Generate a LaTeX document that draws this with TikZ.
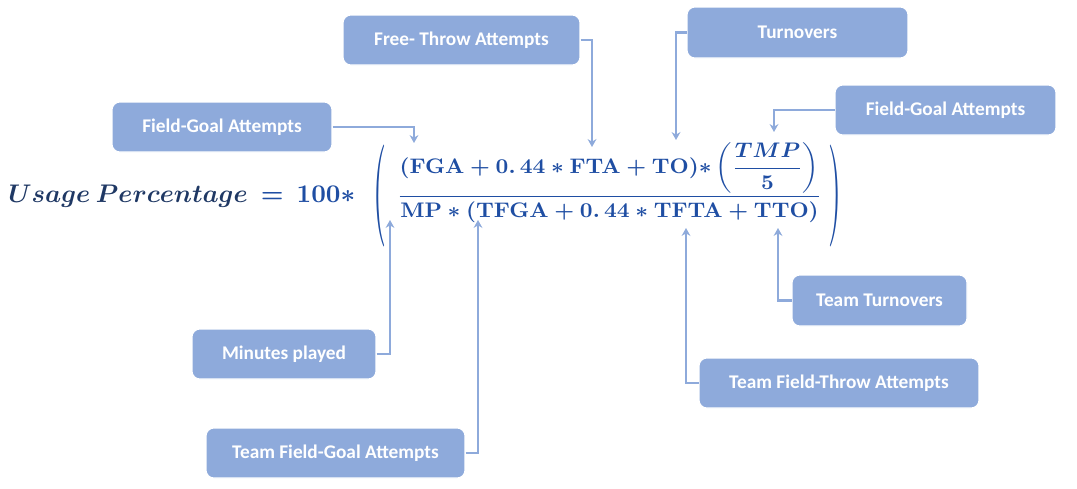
\documentclass[tikz,border=0pt]{standalone}
\usepackage{amsmath}
\usepackage[no-math]{fontspec}
\setmainfont{Carlito}
\usetikzlibrary{arrows.meta}
\definecolor{boxblue}{HTML}{8EAADB}
\definecolor{navy}{HTML}{1F3864}
\definecolor{eqblue}{HTML}{1F4EA3}
\tikzset{
  lbl/.style={fill=boxblue, draw=white, line width=0.6pt, rounded corners=4.5pt, text=white,
    font=\fontsize{11}{13}\selectfont\bfseries, inner sep=0pt, anchor=center},
  conn/.style={draw=boxblue, line width=1.6pt, -{Stealth[length=4.5pt,width=5pt]}},
  eq/.style={inner sep=0pt, text=eqblue}
}
\begin{document}
\begin{tikzpicture}[x=0.02cm,y=-0.02cm]
\useasboundingbox (0,0) rectangle (1077,488);
% labels
\node[lbl, minimum width=4.74cm, minimum height=1.0cm] (fta) at (461.5,40) {Free- Throw Attempts};
\node[lbl, minimum width=4.42cm, minimum height=1.02cm] (to) at (797.5,32.5) {Turnovers};
\node[lbl, minimum width=4.42cm, minimum height=1.0cm] (fgaR) at (945.5,110) {Field-Goal Attempts};
\node[lbl, minimum width=4.4cm, minimum height=1.0cm] (fgaL) at (222,127) {Field-Goal Attempts};
\node[lbl, minimum width=3.68cm, minimum height=1.0cm] (mp) at (284,354) {Minutes played};
\node[lbl, minimum width=5.18cm, minimum height=1.0cm] (tfga) at (335.5,453) {Team Field-Goal Attempts};
\node[lbl, minimum width=3.5cm, minimum height=1.02cm] (tto) at (879.5,300.5) {Team Turnovers};
\node[lbl, minimum width=5.6cm, minimum height=1.0cm] (tfta) at (839,383) {Team Field-Throw Attempts};
% formula
\node[eq, anchor=base west, text=navy] (lhs) at (8,202)
  {\resizebox{6.94cm}{!}{\boldmath$Usage\ Percentage \color{eqblue}\,=\,\mathbf{100}\ast$}};
\node[eq] (lpar) at (380,196)
  {\resizebox*{0.26cm}{2.04cm}{$\mathbf{(}$}};
\node[eq] (rpar) at (835,196)
  {\resizebox*{0.26cm}{2.04cm}{$\mathbf{)}$}};
\node[eq] (frac) at (609.5,183)
  {\resizebox*{8.5cm}{1.6cm}{\boldmath$\displaystyle
     \frac{\mathbf{(FGA+0.\,44\ast FTA+TO)\ast}\left(\dfrac{TMP}{\mathbf{5}}\right)}{\mathbf{MP\ast(TFGA+0.\,44\ast TFTA+TTO)}}$}};
% target points
\coordinate (pFGA) at (414,143);
\coordinate (pFTA) at (592,147);
\coordinate (pTO) at (676,140);
\coordinate (pTMP) at (774,132);
\coordinate (pMP) at (390,220);
\coordinate (pTFGA) at (478,220);
\coordinate (pTFTA) at (686,228);
\coordinate (pTTO) at (778,228);
% connectors
\draw[conn] (fgaL.east) -| (pFGA);
\draw[conn] (fta.east) -| (pFTA);
\draw[conn] (to.west) -| (pTO);
\draw[conn] (fgaR.west) -| (pTMP);
\draw[conn] (mp.east) -| (pMP);
\draw[conn] (tfga.east) -| (pTFGA);
\draw[conn] (tfta.west) -| (pTFTA);
\draw[conn] (tto.west) -| (pTTO);
\end{tikzpicture}
\end{document}
